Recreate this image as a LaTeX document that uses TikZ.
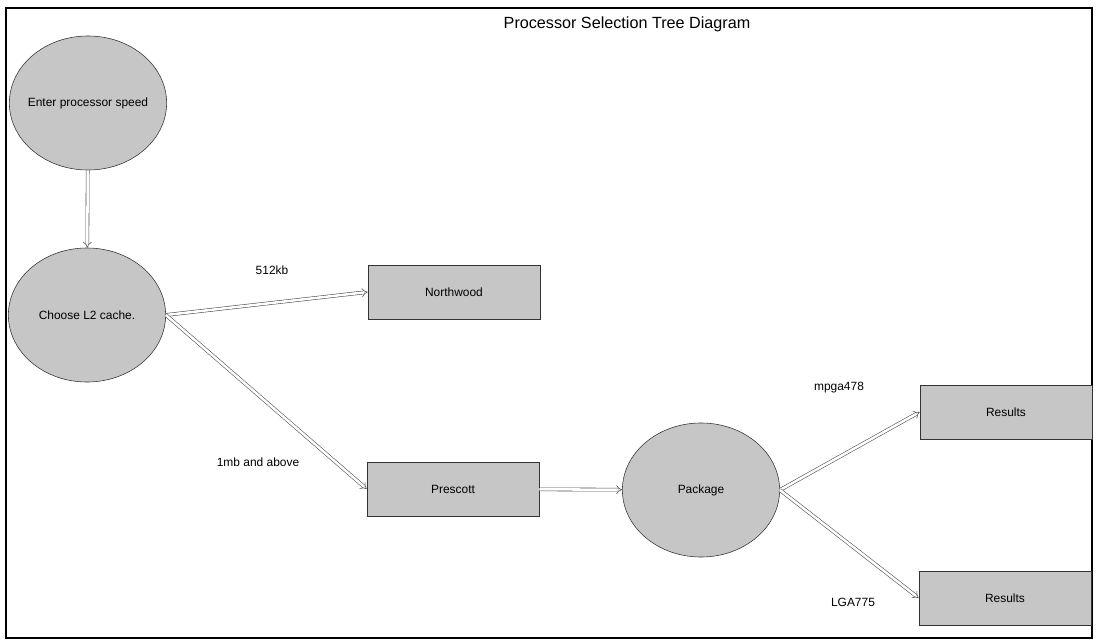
\documentclass[tikz,border=0pt]{standalone}
\usepackage{fontspec}
\setmainfont{Liberation Sans}
\usetikzlibrary{arrows.meta, shapes.geometric}

\begin{document}
\begin{tikzpicture}[x=0.025cm, y=-0.025cm,
    stepellipse/.style={ellipse, draw=black!80, fill=gray!45, inner ysep=0pt, inner xsep=-14pt,
      minimum width=3.93cm, minimum height=3.35cm, font=\fontsize{8.5}{10}\selectfont},
    stepbox/.style={rectangle, draw=black!80, fill=gray!45, inner sep=0pt,
      minimum width=4.3cm, minimum height=1.35cm, font=\fontsize{8.5}{10}\selectfont},
    flowarrow/.style={-{Implies[scale=1.5]}, draw=black!70, thin, double, double distance=1.8pt},
    choicelabel/.style={font=\fontsize{8.5}{10}\selectfont}]
  % page and frame
  \useasboundingbox (0,0) rectangle (1098,643);
  \draw[thick] (6,8) rectangle (1092,638);
  \node[font=\fontsize{11.5}{13}\selectfont] (title) at (627,24) {Processor Selection Tree Diagram};
  % decision nodes
  \node[stepellipse] (speed)   at (88,103)  {Enter processor speed};
  \node[stepellipse] (cache)   at (87,315)  {Choose L2 cache.};
  \node[stepellipse] (package) at (701,490) {Package};
  % outcome boxes
  \node[stepbox] (northwood) at (454,292)  {Northwood};
  \node[stepbox] (prescott)  at (453,489)  {Prescott};
  \node[stepbox] (resultsA)  at (1006,412) {Results};
  \node[stepbox] (resultsB)  at (1005,598) {Results};
  % connectors
  \draw[flowarrow] (speed) -- (cache);
  \draw[flowarrow] (cache.east) -- (northwood.west);
  \draw[flowarrow] (cache.east) -- (prescott.west);
  \draw[flowarrow] (prescott) -- (package);
  \draw[flowarrow] (package.east) -- (resultsA.west);
  \draw[flowarrow] (package.east) -- (resultsB.west);
  % branch labels
  \node[choicelabel] (lbl512)  at (272,270) {512kb};
  \node[choicelabel] (lbl1mb)  at (258,462) {1mb and above};
  \node[choicelabel] (lblmpga) at (839,388) {mpga478};
  \node[choicelabel] (lbllga)  at (853,602) {LGA775};
\end{tikzpicture}
\end{document}
